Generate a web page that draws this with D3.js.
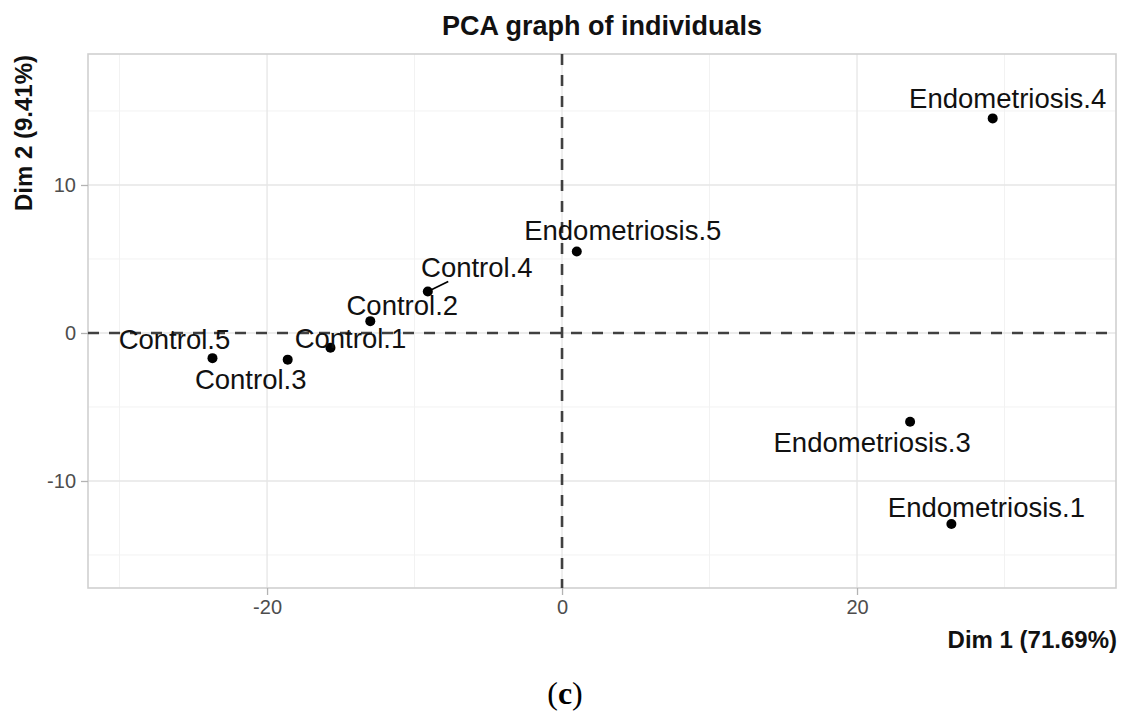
<!DOCTYPE html>
<html>
<head>
<meta charset="utf-8">
<script src="https://cdn.jsdelivr.net/npm/d3@7"></script>
<style>
  html, body { margin: 0; padding: 0; background: #ffffff; }
  svg { display: block; font-family: "Liberation Sans", Arial, sans-serif; }
</style>
</head>
<body>
<svg id="chart" width="1122" height="713"></svg>
<script>
// Individuals on the first two principal components
const names = ["Endometriosis.4", "Endometriosis.5", "Control.4", "Control.2", "Control.1",
               "Control.5", "Control.3", "Endometriosis.3", "Endometriosis.1"];
const dim1 = [29.2, 1.0, -9.1, -13.0, -15.7, -23.7, -18.6, 23.6, 26.4];
const dim2 = [14.5, 5.5, 2.8, 0.8, -1.0, -1.7, -1.8, -6.0, -12.9];

// Axis ticks and variance explained
const xMajorTicks = [-20, 0, 20];
const xMinorTicks = [-30, -10, 10, 30];
const yMajorTicks = [-10, 0, 10];
const yMinorTicks = [-15, -5, 5, 15];
const dim1Label = "Dim 1 (71.69%)";
const dim2Label = "Dim 2 (9.41%)";
const title = "PCA graph of individuals";

// Repelled label placement (pixel offset of label centre/baseline from its point)
const labelDx = [15, 46, 49, 32, 20, -38, -37, -38, 35];
const labelDy = [-10, -12, -15, -6, 0, -9, 29, 30, -7];
const labelHasSegment = [false, false, true, false, false, false, false, false, false];

const svg = d3.select("#chart");
const panel = { left: 88, right: 1116, top: 54, bottom: 588 };

const x = d3.scaleLinear().domain([-32.14, 37.56]).range([panel.left, panel.right]);
const y = d3.scaleLinear().domain([-17.23, 18.85]).range([panel.bottom, panel.top]);

// Grid
const grid = svg.append("g");
grid.selectAll("line.xmin").data(xMinorTicks).join("line")
  .attr("x1", d => x(d)).attr("x2", d => x(d))
  .attr("y1", panel.top).attr("y2", panel.bottom)
  .attr("stroke", "#f2f2f2").attr("stroke-width", 1);
grid.selectAll("line.ymin").data(yMinorTicks).join("line")
  .attr("x1", panel.left).attr("x2", panel.right)
  .attr("y1", d => y(d)).attr("y2", d => y(d))
  .attr("stroke", "#f2f2f2").attr("stroke-width", 1);
grid.selectAll("line.xmaj").data(xMajorTicks).join("line")
  .attr("x1", d => x(d)).attr("x2", d => x(d))
  .attr("y1", panel.top).attr("y2", panel.bottom)
  .attr("stroke", "#e6e6e6").attr("stroke-width", 1.3);
grid.selectAll("line.ymaj").data(yMajorTicks).join("line")
  .attr("x1", panel.left).attr("x2", panel.right)
  .attr("y1", d => y(d)).attr("y2", d => y(d))
  .attr("stroke", "#e6e6e6").attr("stroke-width", 1.3);

// Panel border
svg.append("rect")
  .attr("x", panel.left).attr("y", panel.top)
  .attr("width", panel.right - panel.left).attr("height", panel.bottom - panel.top)
  .attr("fill", "none").attr("stroke", "#d0d0d0").attr("stroke-width", 1.6);

// Axes (plain hyphen for negatives)
const fmt = d => String(d);
const xAxis = d3.axisBottom(x).tickValues(xMajorTicks).tickSize(7).tickPadding(5).tickFormat(fmt);
const yAxis = d3.axisLeft(y).tickValues(yMajorTicks).tickSize(7).tickPadding(5).tickFormat(fmt);

const gx = svg.append("g").attr("transform", `translate(0,${panel.bottom})`).call(xAxis);
const gy = svg.append("g").attr("transform", `translate(${panel.left},0)`).call(yAxis);
[gx, gy].forEach(g => {
  g.select(".domain").remove();
  g.selectAll(".tick line").attr("stroke", "#b3b3b3").attr("stroke-width", 1.3);
  g.selectAll(".tick text").attr("fill", "#4d4d4d")
    .style("font-family", "'Liberation Sans', Arial, sans-serif").style("font-size", "20px");
});
gx.selectAll(".tick text").attr("dy", "0.71em");
gy.selectAll(".tick text").attr("dy", "0.35em");

// Reference dashed lines at the origin
svg.append("line")
  .attr("x1", panel.left).attr("x2", panel.right)
  .attr("y1", y(0)).attr("y2", y(0))
  .attr("stroke", "#404040").attr("stroke-width", 2.6).attr("stroke-dasharray", "11,10");
svg.append("line")
  .attr("x1", x(0)).attr("x2", x(0))
  .attr("y1", panel.top).attr("y2", panel.bottom)
  .attr("stroke", "#404040").attr("stroke-width", 2.6).attr("stroke-dasharray", "11,10");

// Points
const idx = d3.range(names.length);
svg.append("g").selectAll("circle").data(idx).join("circle")
  .attr("cx", i => x(dim1[i])).attr("cy", i => y(dim2[i]))
  .attr("r", 5).attr("fill", "#000");

// Leader segments towards the label box
svg.append("g").selectAll("line").data(idx.filter(i => labelHasSegment[i])).join("line")
  .attr("x1", i => x(dim1[i])).attr("y1", i => y(dim2[i]))
  .attr("x2", i => {
    const t = (-labelDy[i] - 5) / (-labelDy[i] + 9);
    return x(dim1[i]) + t * labelDx[i];
  })
  .attr("y2", i => y(dim2[i]) + labelDy[i] + 5)
  .attr("stroke", "#000").attr("stroke-width", 1.8);

// Labels
svg.append("g").selectAll("text").data(idx).join("text")
  .attr("x", i => x(dim1[i]) + labelDx[i])
  .attr("y", i => y(dim2[i]) + labelDy[i])
  .attr("text-anchor", "middle")
  .attr("fill", "#111")
  .style("font-size", "27.5px")
  .text(i => names[i]);

// Titles
svg.append("text")
  .attr("x", (panel.left + panel.right) / 2).attr("y", 35)
  .attr("text-anchor", "middle").attr("font-weight", "bold")
  .attr("fill", "#111").style("font-size", "27px")
  .text(title);

svg.append("text")
  .attr("x", 1117).attr("y", 648)
  .attr("text-anchor", "end").attr("font-weight", "bold")
  .attr("fill", "#111").style("font-size", "24px")
  .text(dim1Label);

svg.append("text")
  .attr("transform", "translate(32,55) rotate(-90)")
  .attr("text-anchor", "end").attr("font-weight", "bold")
  .attr("fill", "#111").style("font-size", "24px")
  .text(dim2Label);

// Sub-figure caption
const cap = svg.append("text")
  .attr("x", 565).attr("y", 704)
  .attr("text-anchor", "middle")
  .attr("fill", "#000")
  .style("font-family", "'Liberation Serif', 'Times New Roman', serif")
  .style("font-size", "32px");
cap.append("tspan").text("(");
cap.append("tspan").attr("font-weight", "bold").text("c");
cap.append("tspan").text(")");
</script>
</body>
</html>
